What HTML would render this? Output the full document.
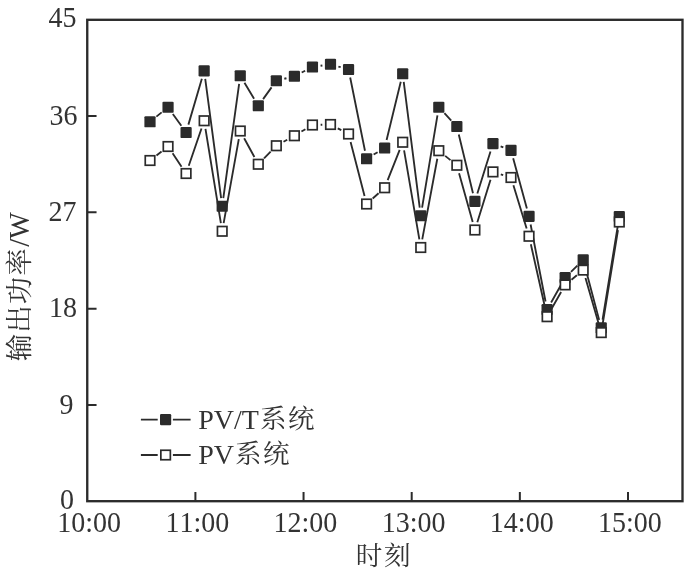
<!DOCTYPE html>
<html lang="zh-CN">
<head>
<meta charset="utf-8">
<title>输出功率</title>
<style>
html,body{margin:0;padding:0;background:#ffffff;}
body{width:700px;height:573px;overflow:hidden;}
svg{display:block;will-change:transform;filter:grayscale(1);}
text{font-family:"Liberation Serif","Noto Serif CJK SC",serif;font-size:28px;fill:#333333;font-kerning:none;font-variant-ligatures:none;}
.c{font-family:"Noto Serif CJK SC","Liberation Serif",serif;font-size:26px;letter-spacing:2px;font-weight:400;}
</style>
</head>
<body>
<svg width="700" height="573" viewBox="0 0 700 573">
<rect x="0" y="0" width="700" height="573" fill="#ffffff"/>

<rect x="87.25" y="19.8" width="595.25" height="481.40" fill="none" stroke="#2b2b2b" stroke-width="2.35"/>
<path d="M87.25 404.92h9.3 M87.25 308.64h9.3 M87.25 212.36h9.3 M87.25 116.08h9.3 M195.40 501.2v-9.3 M303.55 501.2v-9.3 M411.70 501.2v-9.3 M519.85 501.2v-9.3 M628.00 501.2v-9.3" fill="none" stroke="#2b2b2b" stroke-width="2"/>
<text transform="translate(76.6 27.00) scale(1 1.07)" text-anchor="end">45</text>
<text transform="translate(77.4 124.70) scale(1 1.07)" text-anchor="end">36</text>
<text transform="translate(76.6 221.10) scale(1 1.07)" text-anchor="end">27</text>
<text transform="translate(77.1 317.20) scale(1 1.07)" text-anchor="end">18</text>
<text transform="translate(73.4 413.50) scale(1 1.07)" text-anchor="end">9</text>
<text transform="translate(74.0 509.10) scale(1 1.07)" text-anchor="end">0</text>
<text transform="translate(89.15 532.1) scale(1 1.07)" text-anchor="middle">10:00</text>
<text transform="translate(197.30 532.1) scale(1 1.07)" text-anchor="middle">11:00</text>
<text transform="translate(305.45 532.1) scale(1 1.07)" text-anchor="middle">12:00</text>
<text transform="translate(413.60 532.1) scale(1 1.07)" text-anchor="middle">13:00</text>
<text transform="translate(521.75 532.1) scale(1 1.07)" text-anchor="middle">14:00</text>
<text transform="translate(629.90 532.1) scale(1 1.07)" text-anchor="middle">15:00</text>
<text x="355.8" y="565.4"><tspan class="c" style="font-size:26.6px;letter-spacing:1.6px">时刻</tspan></text>
<text transform="translate(29.0 361.2) rotate(-90)" style="font-size:28.4px"><tspan class="c" dy="-0.3" style="font-size:27.4px;letter-spacing:1.1px">输出功率</tspan><tspan dy="0.3" dx="0.4">/W</tspan></text>
<path d="M156.39 116.61L161.66 112.39 M172.82 113.92L181.33 125.83 M188.40 124.63L201.85 78.72 M205.23 78.98L221.12 198.12 M223.32 198.13L239.13 83.87 M244.48 82.78L254.07 98.72 M263.10 99.10L271.55 87.40 M284.31 78.77L286.44 78.23 M301.70 72.51L305.15 70.74 M320.56 65.76L322.39 65.49 M338.37 66.54L340.68 67.21 M350.18 77.54L364.97 150.71 M373.65 154.55L377.60 152.20 M386.59 140.03L400.76 81.72 M403.73 81.88L419.72 207.62 M422.10 207.66L437.45 115.34 M444.41 113.23L451.24 120.52 M458.77 134.47L472.98 193.33 M477.35 193.47L490.50 151.43 M500.64 146.45L503.31 147.45 M513.16 158.21L526.89 208.49 M530.61 224.45L545.54 301.55 M551.13 302.46L561.12 284.74 M570.99 271.84L577.36 265.56 M585.30 267.73L599.15 319.87 M602.56 319.71L617.99 224.59" fill="none" stroke="#2b2b2b" stroke-width="1.85"/>
<g fill="#2b2b2b"><rect x="144.40" y="116.15" width="11.2" height="11.2" rx="1.2"/><rect x="162.45" y="101.65" width="11.2" height="11.2" rx="1.2"/><rect x="180.50" y="126.90" width="11.2" height="11.2" rx="1.2"/><rect x="198.55" y="65.25" width="11.2" height="11.2" rx="1.2"/><rect x="216.60" y="200.65" width="11.2" height="11.2" rx="1.2"/><rect x="234.65" y="70.15" width="11.2" height="11.2" rx="1.2"/><rect x="252.70" y="100.15" width="11.2" height="11.2" rx="1.2"/><rect x="270.75" y="75.15" width="11.2" height="11.2" rx="1.2"/><rect x="288.80" y="70.65" width="11.2" height="11.2" rx="1.2"/><rect x="306.85" y="61.40" width="11.2" height="11.2" rx="1.2"/><rect x="324.90" y="58.65" width="11.2" height="11.2" rx="1.2"/><rect x="342.95" y="63.90" width="11.2" height="11.2" rx="1.2"/><rect x="361.00" y="153.15" width="11.2" height="11.2" rx="1.2"/><rect x="379.05" y="142.40" width="11.2" height="11.2" rx="1.2"/><rect x="397.10" y="68.15" width="11.2" height="11.2" rx="1.2"/><rect x="415.15" y="210.15" width="11.2" height="11.2" rx="1.2"/><rect x="433.20" y="101.65" width="11.2" height="11.2" rx="1.2"/><rect x="451.25" y="120.90" width="11.2" height="11.2" rx="1.2"/><rect x="469.30" y="195.70" width="11.2" height="11.2" rx="1.2"/><rect x="487.35" y="138.00" width="11.2" height="11.2" rx="1.2"/><rect x="505.40" y="144.70" width="11.2" height="11.2" rx="1.2"/><rect x="523.45" y="210.80" width="11.2" height="11.2" rx="1.2"/><rect x="541.50" y="304.00" width="11.2" height="11.2" rx="1.2"/><rect x="559.55" y="272.00" width="11.2" height="11.2" rx="1.2"/><rect x="577.60" y="254.20" width="11.2" height="11.2" rx="1.2"/><rect x="595.65" y="322.20" width="11.2" height="11.2" rx="1.2"/><rect x="613.70" y="210.90" width="11.2" height="11.2" rx="1.2"/></g>
<path d="M156.48 155.47L161.57 151.53 M172.61 153.32L181.54 166.68 M188.75 165.74L201.50 128.51 M205.47 128.84L220.88 223.16 M223.65 223.18L238.80 139.07 M244.16 138.21L254.39 157.04 M264.03 158.38L270.62 151.62 M283.52 141.78L287.23 139.72 M301.45 131.55L305.40 129.20 M320.65 124.77L322.30 124.73 M337.76 128.32L341.29 130.18 M350.60 141.94L364.55 196.06 M372.69 198.51L378.56 193.24 M387.67 180.13L399.68 149.87 M404.09 150.33L419.36 239.42 M422.25 239.44L437.30 158.76 M445.18 155.85L450.47 160.10 M459.05 173.15L472.70 222.10 M477.33 222.17L490.52 179.73 M500.78 174.33L503.17 175.07 M513.41 185.34L526.64 228.41 M530.85 244.25L545.30 308.70 M551.15 309.57L561.10 292.03 M571.49 279.70L576.86 275.30 M585.48 277.98L598.97 324.72 M602.57 324.51L617.98 230.09" fill="none" stroke="#2b2b2b" stroke-width="1.85"/>
<g fill="#ffffff" stroke="#2b2b2b" stroke-width="1.7"><rect x="145.25" y="155.75" width="9.50" height="9.50"/><rect x="163.30" y="141.75" width="9.50" height="9.50"/><rect x="181.35" y="168.75" width="9.50" height="9.50"/><rect x="199.40" y="116.00" width="9.50" height="9.50"/><rect x="217.45" y="226.50" width="9.50" height="9.50"/><rect x="235.50" y="126.25" width="9.50" height="9.50"/><rect x="253.55" y="159.50" width="9.50" height="9.50"/><rect x="271.60" y="141.00" width="9.50" height="9.50"/><rect x="289.65" y="131.00" width="9.50" height="9.50"/><rect x="307.70" y="120.25" width="9.50" height="9.50"/><rect x="325.75" y="119.75" width="9.50" height="9.50"/><rect x="343.80" y="129.25" width="9.50" height="9.50"/><rect x="361.85" y="199.25" width="9.50" height="9.50"/><rect x="379.90" y="183.00" width="9.50" height="9.50"/><rect x="397.95" y="137.50" width="9.50" height="9.50"/><rect x="416.00" y="242.75" width="9.50" height="9.50"/><rect x="434.05" y="145.95" width="9.50" height="9.50"/><rect x="452.10" y="160.50" width="9.50" height="9.50"/><rect x="470.15" y="225.25" width="9.50" height="9.50"/><rect x="488.20" y="167.15" width="9.50" height="9.50"/><rect x="506.25" y="172.75" width="9.50" height="9.50"/><rect x="524.30" y="231.50" width="9.50" height="9.50"/><rect x="542.35" y="311.95" width="9.50" height="9.50"/><rect x="560.40" y="280.15" width="9.50" height="9.50"/><rect x="578.45" y="265.35" width="9.50" height="9.50"/><rect x="596.50" y="327.85" width="9.50" height="9.50"/><rect x="614.55" y="217.25" width="9.50" height="9.50"/></g>
<path d="M140.9 419.6H157.7M172.9 419.6H190.6" fill="none" stroke="#2b2b2b" stroke-width="1.85"/>
<rect x="160.00" y="414.00" width="11.2" height="11.2" rx="1.2" fill="#2b2b2b"/>
<text x="198.25" y="428.8">PV/T<tspan class="c" dx="1" dy="-0.6" style="font-size:26.5px;letter-spacing:1.5px">系统</tspan></text>
<path d="M140.9 455.0H157.7M172.9 455.0H190.6" fill="none" stroke="#2b2b2b" stroke-width="1.85"/>
<rect x="160.85" y="450.25" width="9.50" height="9.50" fill="#fff" stroke="#2b2b2b" stroke-width="1.7"/>
<text x="198.25" y="463.5">PV<tspan class="c" dx="1" dy="-0.6" style="font-size:26.5px;letter-spacing:1.5px">系统</tspan></text>
</svg>
</body>
</html>
